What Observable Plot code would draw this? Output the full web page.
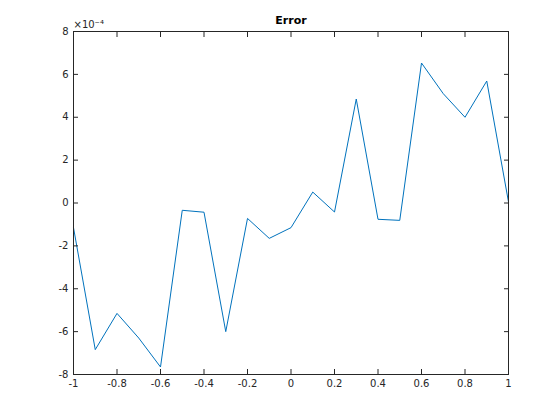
<!DOCTYPE html>
<html>
<head>
<meta charset="utf-8">
<script src="https://cdn.jsdelivr.net/npm/d3@7"></script>
<script src="https://cdn.jsdelivr.net/npm/@observablehq/plot@0.6"></script>
<style>
  html, body { margin: 0; padding: 0; background: #fff; }
</style>
</head>
<body>
<div id="chart"></div>
<script>
const xValues = [-1, -0.9, -0.8, -0.7, -0.6, -0.5, -0.4, -0.3, -0.2, -0.1, 0, 0.1, 0.2, 0.3, 0.4, 0.5, 0.6, 0.7, 0.8, 0.9, 1];
const errorValues = [-1.15e-4, -6.84e-4, -5.15e-4, -6.3e-4, -7.65e-4, -0.34e-4, -0.43e-4, -6.0e-4, -0.72e-4, -1.65e-4, -1.15e-4, 0.51e-4, -0.42e-4, 4.85e-4, -0.76e-4, -0.81e-4, 6.53e-4, 5.1e-4, 4.0e-4, 5.69e-4, 0.05e-4];
const xTicks = [-1, -0.8, -0.6, -0.4, -0.2, 0, 0.2, 0.4, 0.6, 0.8, 1];
const yTicks = [-8e-4, -6e-4, -4e-4, -2e-4, 0, 2e-4, 4e-4, 6e-4, 8e-4];
const titleText = "Error";
const exponentText = "×10⁻⁴";

const data = xValues.map((x, i) => ({x, e: errorValues[i]}));
const ink = "#262626";
const fmtX = d => String(Math.round(d * 10) / 10);
const fmtY = d => String(Math.round(d * 1e4));

const chart = Plot.plot({
  width: 560,
  height: 420,
  marginLeft: 73,
  marginRight: 52,
  marginTop: 31,
  marginBottom: 46,
  style: {fontFamily: "DejaVu Sans, sans-serif", fontSize: "10px", color: ink, background: "#fff"},
  x: {domain: [-1, 1]},
  y: {domain: [-8e-4, 8e-4]},
  marks: [
    Plot.line(data, {x: "x", y: "e", stroke: "#0072BD", strokeWidth: 1}),
    Plot.frame({stroke: ink, strokeWidth: 1}),
    Plot.axisX(xTicks, {anchor: "bottom", tickSize: -5, text: null, stroke: ink, label: null}),
    Plot.axisX(xTicks, {anchor: "top", tickSize: -5, text: null, stroke: ink, label: null}),
    Plot.axisY(yTicks, {anchor: "left", tickSize: -5, text: null, stroke: ink, label: null}),
    Plot.axisY(yTicks, {anchor: "right", tickSize: -5, text: null, stroke: ink, label: null}),
    Plot.axisX(xTicks, {anchor: "bottom", tickSize: 0, tickPadding: 5, tickFormat: fmtX, fill: ink, label: null, fontSize: 10}),
    Plot.axisY(yTicks, {anchor: "left", tickSize: 0, tickPadding: 5, tickFormat: fmtY, fill: ink, label: null, fontSize: 10}),
    Plot.text([exponentText], {frameAnchor: "top-left", text: d => d, lineAnchor: "middle", dy: -7, dx: 0, textAnchor: "start", fill: ink, fontSize: 10}),
    Plot.text([titleText], {frameAnchor: "top", text: d => d, lineAnchor: "middle", dy: -11.5, fill: "#000", fontWeight: "bold", fontSize: 11})
  ]
});
document.getElementById("chart").appendChild(chart);
</script>
</body>
</html>
